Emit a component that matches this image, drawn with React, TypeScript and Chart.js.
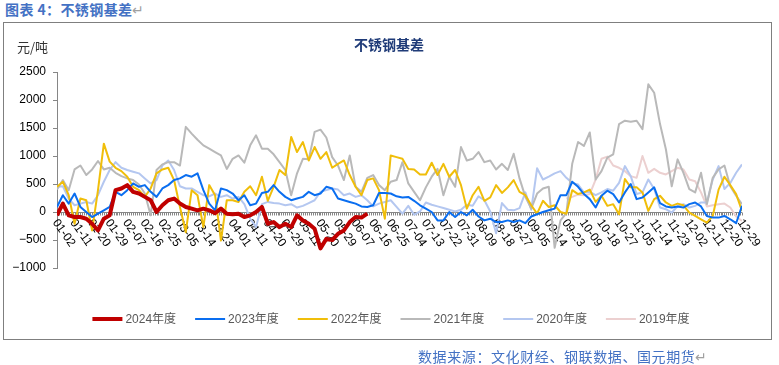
import React, { useEffect, useRef } from 'react';
import { Chart, registerables } from 'chart.js';

Chart.register(...registerables);

// x-axis tick labels: one every 9 trading days
const TICK_LABELS = [
  '01-02', '01-11', '01-20', '01-29', '02-07', '02-16', '02-25', '03-05', '03-14', '03-23',
  '04-01', '04-11', '04-20', '04-29', '05-11', '05-20', '05-29', '06-07', '06-16', '06-25',
  '07-04', '07-13', '07-22', '07-31', '08-09', '08-18', '08-27', '09-05', '09-14', '09-23',
  '10-09', '10-18', '10-27', '11-05', '11-14', '11-23', '12-02', '12-11', '12-20', '12-29',
];
const DAYS_PER_TICK = 9;
const LAST_DAY = 351; // index of 12-29
const SAMPLE_STEP = 3; // trading days between two stored samples

const Y_MIN = -1000;
const Y_MAX = 2500;
const Y_STEP = 500;

// basis (元/吨), one sample every 3 trading days
const S2024 = [
  -60, 150, -60, -90, -90, -120, -210, -330, -120, -60,
  390, 420, 480, 360, 330, 270, 210, 0, 120, 210,
  240, 150, 90, 60, 30, 60, 30, -20, 60, -30,
  -40, -30, -90, -60, 0, 90, -210, -180, -270, -210,
  -270, -60, -150, -210, -300, -650, -480, -500, -390, -330,
  -180, -90, -100, -30,
];
const S2023 = [
  90, 300, 150, 330, 90, 0, -90, -30, 30, 90,
  360, 300, 390, 510, 450, 480, 360, 270, 420, 480,
  570, 600, 660, 630, 690, 390, 150, 30, 420, 390,
  330, 210, 300, 120, 150, 340, 360, 480, 360, 270,
  210, 240, 270, 360, 300, 330, 450, 420, 240, 210,
  180, 150, 100, 90, 120, 340, 340, 330, 280, 260,
  270, 200, 120, 60, 0, -150, -150, 0, -90, 0,
  -60, 40, -80, -150, -120, -180, -180, -150, -180, -150,
  -200, -80, -40, 0, 30, 60, 300, 300, 540, 450,
  320, 230, 80, 290, 380, 320, 170, 350, 500, 230,
  260, 350, 440, 160, 100, 80, 100, 80, 140, 170,
  100, -70, -100, -100, -70, -130, -200, 110,
];
const S2022 = [
  450, 540, 300, -210, 240, 210, -330, 390, 1220, 900,
  790, 730, 630, 450, 390, 270, 420, 690, 760, 790,
  570, 90, -360, 390, 300, -270, 480, 300, -510, 210,
  210, 180, 360, 460, 300, 630, 200, 450, 750, 660,
  1340, 1070, 1250, 920, 1160, 950, 1070, 790, 860, 920,
  660, 450, 300, 570, 600, 390, -120, 1010, 980, 950,
  770, 760, 670, 670, 880, 660, 860, 630, 750, 480,
  60, 300, 450, 200, 260, 480, 340, 440, 570, 360,
  300, 120, -30, 200, 90, 120, 0, -30, 390, 320,
  350, 400, 180, 290, 110, 140, -40, 590, 440, 440,
  350, 20, 230, 290, 170, 110, 150, 120, -10, -70,
  -130, -190, -70, 400, 630, 480, 320, 20,
];
const S2021 = [
  400, 570, 390, 760, 830, 660, 760, 910, 760, 790,
  700, 640, 600, 570, 490, 330, -60, 750, 850, 890,
  890, 830, 1520, 1400, 1290, 1190, 1130, 1070, 1010, 770,
  950, 1010, 880, 1190, 1370, 1130, 1130, 1030, 890, 750,
  300, 690, 950, 940, 1430, 1470, 1330, 980, 830, 570,
  1010, 450, 360, 610, 660, 480, 390, 540, 570, 890,
  510, 360, 210, 440, 630, 770, 300, 630, 450, 1160,
  920, 950, 1070, 890, 920, 760, 860, 750, 1040, 600,
  270, 60, 330, 420, 450, -640, -150, -20, 860, 1250,
  1180, 1420, 580, 730, 970, 1030, 1570, 1630, 1610, 1630,
  1480, 2280, 2130, 1570, 1120, 460, 940, 700, 410, 350,
  700, 140, 610, 760, 830, 460, 290, 140,
];
const S2020 = [
  450, 460, 240, 120, 150, 180, 150, 300, 540, 750,
  890, 790, 750, 720, 690, 600, 510, 570, 830, 920,
  750, 460, 420, 420, 360, 300, 280, 330, 270, 300,
  240, 270, 140, -120, -270, 140, 180, 160, 150, 120,
  140, 80, 110, 160, 210, 360, 390, 420, 400, 300,
  330, 270, 300, 210, 100, 150, 180, 210, 90, -30,
  110, -50, 10, 170, 130, 100, 70, 40, 10, 40,
  130, 110, 280, 210, 10, -380, 160, 40, 30, 70,
  350, 40, 780, 580, 630, 690, 730, 610, 520, 490,
  350, 360, 300, 350, 410, 380, 520, 820, 640, 320,
  350, 580, 410, 80, 50, -10, 100, 140, 80, 110,
  170, 170, 580, 820, 410, 520, 700, 850,
];
const S2019_START = 87; // first sample index with data
const S2019 = [
  240, 270, 310,
  300, 320, 580, 950, 990, 830, 790, 730, 640, 610,
  1000, 700, 770, 700, 670, 730, 790, 760, 580, 550,
  350, 100, 120, 140, 150, 80, -80, -160,
];

const SERIES = [
  { label: '2024年度', values: S2024, start: 0, color: '#C00000', width: 4 },
  { label: '2023年度', values: S2023, start: 0, color: '#0A6EF0', width: 2 },
  { label: '2022年度', values: S2022, start: 0, color: '#F0BE0A', width: 2 },
  { label: '2021年度', values: S2021, start: 0, color: '#B9B9B9', width: 2 },
  { label: '2020年度', values: S2020, start: 0, color: '#B4C7F0', width: 2 },
  { label: '2019年度', values: S2019, start: S2019_START, color: '#ECD0D0', width: 2 },
];

const AXIS_COLOR = '#868686';
const TICK_FONT = '12px "Liberation Sans", Arial, sans-serif';

const excelAxisPlugin = {
  id: 'excelAxis',
  beforeDatasetsDraw(chart: any) {
    const { ctx, chartArea, scales } = chart;
    const xs = scales.x;
    const ys = scales.y;
    const y0 = Math.round(ys.getPixelForValue(0)) + 0.5;
    ctx.save();
    ctx.strokeStyle = AXIS_COLOR;
    ctx.lineWidth = 1;
    ctx.beginPath();
    ctx.moveTo(chartArea.left, y0);
    ctx.lineTo(chartArea.right, y0);
    for (let i = 0; i <= LAST_DAY; i++) {
      const px = Math.round(xs.getPixelForValue(i)) + 0.5;
      ctx.moveTo(px, y0);
      ctx.lineTo(px, y0 + 3);
    }
    ctx.stroke();
    ctx.fillStyle = '#000';
    ctx.font = TICK_FONT;
    ctx.textAlign = 'left';
    ctx.textBaseline = 'middle';
    TICK_LABELS.forEach((lab, j) => {
      const px = xs.getPixelForValue(j * DAYS_PER_TICK);
      ctx.save();
      ctx.translate(px - 2, y0 + 8);
      ctx.rotate((55 * Math.PI) / 180);
      ctx.fillText(lab, 0, 0);
      ctx.restore();
    });
    ctx.restore();
  },
};

const lineLegendPlugin = {
  id: 'lineLegend',
  afterDraw(chart: any) {
    const { ctx } = chart;
    const LINE = 30;
    const GAP = 3;
    const SPACE = 19;
    const CENTER_X = 391;
    const CENTER_Y = 319;
    ctx.save();
    ctx.font = '12px "Liberation Sans", "Noto Sans CJK SC", sans-serif';
    const items = chart.data.datasets.map((ds: any) => ({
      label: ds.label,
      color: ds.borderColor,
      width: ds.borderWidth,
      tw: ctx.measureText(ds.label).width,
    }));
    const total =
      items.reduce((s: number, it: any) => s + LINE + GAP + it.tw, 0) + SPACE * (items.length - 1);
    let x = CENTER_X - total / 2;
    ctx.textAlign = 'left';
    ctx.textBaseline = 'middle';
    items.forEach((it: any) => {
      ctx.strokeStyle = it.color;
      ctx.lineWidth = it.width;
      ctx.beginPath();
      ctx.moveTo(x, CENTER_Y);
      ctx.lineTo(x + LINE, CENTER_Y);
      ctx.stroke();
      ctx.fillStyle = '#595959';
      ctx.fillText(it.label, x + LINE + GAP, CENTER_Y + 1);
      x += LINE + GAP + it.tw + SPACE;
    });
    ctx.restore();
  },
};

export default function App() {
  const canvasRef = useRef<HTMLCanvasElement | null>(null);

  useEffect(() => {
    if (!canvasRef.current) return;
    const datasets = SERIES.map((s) => ({
      label: s.label,
      data: s.values.map((v, i) => ({ x: (s.start + i) * SAMPLE_STEP, y: v })),
      borderColor: s.color,
      backgroundColor: s.color,
      borderWidth: s.width,
      pointRadius: 0,
      tension: 0,
      fill: false,
      borderJoinStyle: 'round' as const,
    }));
    const chart = new Chart(canvasRef.current, {
      type: 'line',
      data: { datasets },
      options: {
        responsive: false,
        animation: false,
        devicePixelRatio: 1,
        layout: { padding: { top: 72, bottom: 97, left: 0, right: 37 } },
        plugins: {
          legend: { display: false },
          tooltip: { enabled: false },
          title: { display: false },
        },
        scales: {
          x: { type: 'linear', min: 0, max: LAST_DAY, display: false },
          y: {
            min: Y_MIN,
            max: Y_MAX,
            ticks: {
              stepSize: Y_STEP,
              padding: 7,
              color: '#000',
              font: { family: '"Liberation Sans", Arial, sans-serif', size: 12 },
              callback: (v: any) => (Number(v) < 0 ? '\u2212' + String(-Number(v)) : String(v)),
            },
            grid: { drawOnChartArea: false, drawTicks: true, tickLength: 4, color: AXIS_COLOR },
            border: { display: true, color: AXIS_COLOR },
            afterFit: (s: any) => {
              s.width = 57;
            },
          },
        },
      },
      plugins: [excelAxisPlugin, lineLegendPlugin],
    });
    return () => chart.destroy();
  }, []);

  return (
    <div
      style={{
        position: 'fixed',
        left: 0,
        top: 0,
        width: 779,
        height: 365,
        background: '#fff',
        overflow: 'hidden',
        fontFamily: '"Noto Sans CJK SC", "Liberation Sans", sans-serif',
      }}
    >
      <div
        style={{
          position: 'absolute',
          left: 5,
          top: -1,
          fontSize: 14,
          fontWeight: 700,
          color: '#4472C4',
          whiteSpace: 'nowrap',
          letterSpacing: 0.4,
        }}
      >
        图表 4：不锈钢基差<span style={{ color: '#A0A0A0', fontWeight: 400 }}>↵</span>
      </div>
      <div
        style={{
          position: 'absolute',
          left: 3,
          top: 22,
          width: 769,
          height: 318,
          boxSizing: 'border-box',
          border: '1px solid #7F7F7F',
        }}
      />
      <canvas
        ref={canvasRef}
        width={779}
        height={365}
        style={{ position: 'absolute', left: 0, top: 0, width: 779, height: 365, display: 'block' }}
      />
      <div
        style={{
          position: 'absolute',
          left: 17,
          top: 37,
          fontSize: 13,
          color: '#333',
          whiteSpace: 'nowrap',
        }}
      >
        元/吨
      </div>
      <div
        style={{
          position: 'absolute',
          left: 289,
          width: 200,
          top: 34,
          textAlign: 'center',
          fontSize: 14,
          fontWeight: 700,
          color: '#1F3B78',
          whiteSpace: 'nowrap',
        }}
      >
        不锈钢基差
      </div>
      <div
        style={{
          position: 'absolute',
          left: 418,
          top: 346,
          fontSize: 14,
          color: '#4472C4',
          whiteSpace: 'nowrap',
          letterSpacing: 0.6,
        }}
      >
        数据来源：文化财经、钢联数据、国元期货<span style={{ color: '#A0A0A0' }}>↵</span>
      </div>
    </div>
  );
}
